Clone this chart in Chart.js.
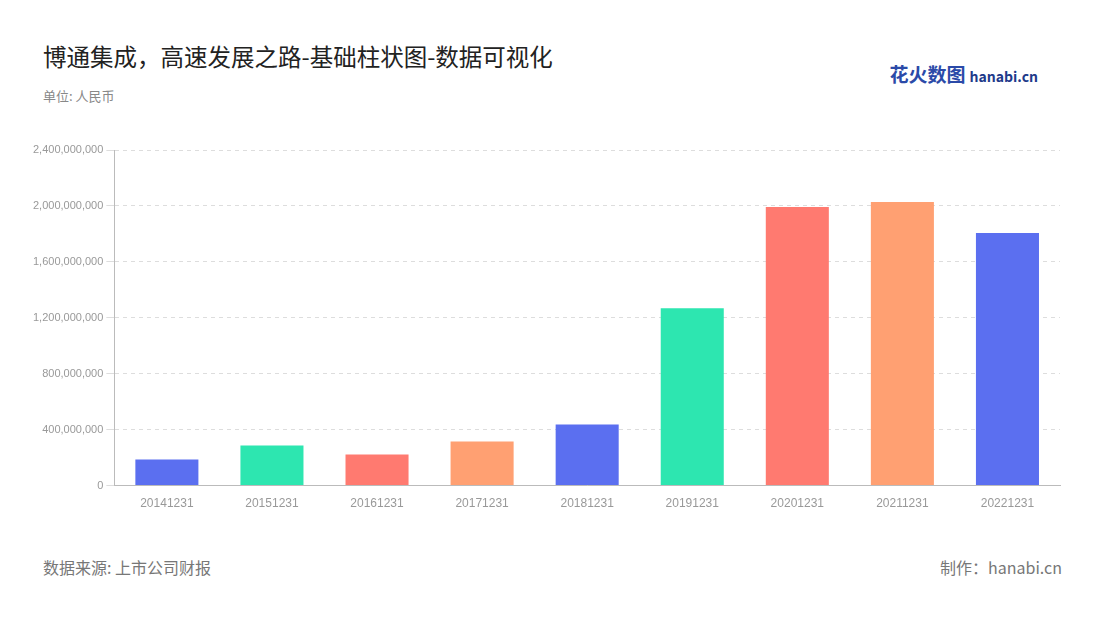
<!DOCTYPE html>
<html><head><meta charset="utf-8">
<script src="https://cdn.jsdelivr.net/npm/chart.js@4/dist/chart.umd.min.js"></script>
<style>
body{margin:0;width:1100px;height:620px;background:#fff;font-family:"Noto Sans CJK SC","Noto Sans",sans-serif;position:relative;overflow:hidden}
#t{position:absolute;left:43px;top:39px;font-size:23.5px;color:#222}
#u{position:absolute;left:43px;top:86px;font-size:13px;color:#888}
#s{position:absolute;left:43px;top:555px;font-size:16px;color:#777}
#m{position:absolute;right:38px;top:555px;font-size:16px;color:#777}
#logo{position:absolute;right:62px;top:60px;font-size:19px;font-weight:bold;color:#2b4aa8}
#logo span{font-size:14px;color:#1e3a8a;margin-left:4px}
#c{position:absolute;left:0;top:0}
</style></head><body>
<div id="t">博通集成，高速发展之路-基础柱状图-数据可视化</div>
<div id="u">单位: 人民币</div>
<div id="logo">花火数图<span>hanabi.cn</span></div>
<div id="s">数据来源: 上市公司财报</div>
<div id="m">制作：hanabi.cn</div>
<canvas id="c" width="1100" height="620"></canvas>
<script>
const categories=["20141231","20151231","20161231","20171231","20181231","20191231","20201231","20211231","20221231"];
const values=[186000000,287000000,222000000,315000000,437000000,1268000000,1992000000,2028000000,1806000000];
const palette=["#5b6ff0","#2de6b0","#ff7a70","#ffa072"];
new Chart(document.getElementById('c'),{type:'bar',
data:{labels:categories,datasets:[{data:values,backgroundColor:categories.map((_,i)=>palette[i%4]),categoryPercentage:0.6,barPercentage:1}]},
options:{responsive:false,animation:false,
layout:{padding:{left:30,right:40,top:150,bottom:106}},
plugins:{legend:{display:false},tooltip:{enabled:false}},
scales:{
x:{grid:{display:false},border:{color:'#bbb'},ticks:{color:'#999',font:{size:12}}},
y:{min:0,max:2400000000,ticks:{stepSize:400000000,color:'#999',font:{size:11},callback:v=>v.toLocaleString('en-US')},
grid:{color:'#ddd',drawTicks:true},border:{display:true,color:'#bbb',dash:[4,4]},}
}}});
</script></body></html>
